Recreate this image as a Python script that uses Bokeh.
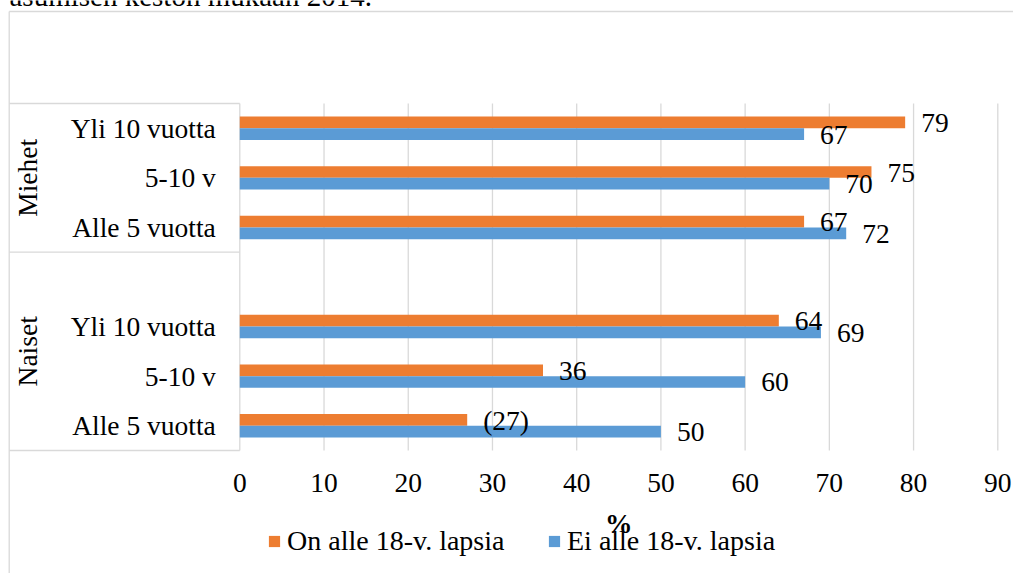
from math import pi

from bokeh.plotting import figure
from bokeh.models import Range1d, Legend, LegendItem, ColumnDataSource
from bokeh.embed import file_html
from bokeh.resources import INLINE
from bokeh.core.properties import value

# ---------------- data ----------------
title_text = "asumisen keston mukaan 2014."
groups = ["Miehet", "Miehet", "Miehet", "Naiset", "Naiset", "Naiset"]
durations = ["Yli 10 vuotta", "5-10 v", "Alle 5 vuotta",
             "Yli 10 vuotta", "5-10 v", "Alle 5 vuotta"]
on_lapsia = [79, 75, 67, 64, 36, 27]
ei_lapsia = [67, 70, 72, 69, 60, 50]
on_labels = ["79", "75", "67", "64", "36", "(27)"]
ei_labels = ["67", "70", "72", "69", "60", "50"]
series_names = ["On alle 18-v. lapsia", "Ei alle 18-v. lapsia"]
series_colors = ["#ED7D31", "#5B9BD5"]
x_ticks = [0, 10, 20, 30, 40, 50, 60, 70, 80, 90]
axis_title = "%"

FONT = "Liberation Serif"
FS = "27.5px"
GRID = "#d9d9d9"

# ---------------- geometry (canvas pixels -> data) ----------------
W, H = 1013, 573
X0_PX, X90_PX = 239.3, 997.3          # plot area left/right
TOP_PX, BOT_PX = 103.0, 450.0         # plot area top/bottom
N_SLOTS = 7                           # 6 categories + 1 spacer row
XMAX = x_ticks[-1]
PX_X = (X90_PX - X0_PX) / XMAX
PX_Y = (BOT_PX - TOP_PX) / N_SLOTS


def dx(px):
    return (px - X0_PX) / PX_X


def dy(py):
    return N_SLOTS - (py - TOP_PX) / PX_Y


# rows from top to bottom; Naiset group carries an empty spacer row on top
rows = list(zip(groups[:3], durations[:3])) + [("Naiset", "")] + list(zip(groups[3:], durations[3:]))
slot_y = {r: N_SLOTS - 0.5 - i for i, r in enumerate(rows)}
cat_y = [slot_y[(g, d)] for g, d in zip(groups, durations)]

BH = 0.236
off = BH / 2
source = ColumnDataSource(dict(
    y_on=[y + off for y in cat_y], y_ei=[y - off for y in cat_y],
    on=on_lapsia, ei=ei_lapsia, on_lbl=on_labels, ei_lbl=ei_labels))

p = figure(width=W, height=H, x_range=Range1d(dx(0), dx(W)), y_range=Range1d(dy(H), dy(0)),
           x_axis_type=None, y_axis_type=None,
           output_backend="svg", toolbar_location=None,
           min_border_left=0, min_border_right=0, min_border_top=0, min_border_bottom=0)
p.outline_line_color = None
p.background_fill_color = "white"
p.border_fill_color = "white"

# caption of the document above the chart (cut by the page top)
p.text(x=[dx(9)], y=[dy(-5)], text=[title_text], text_font=value(FONT), text_font_size="29px",
       text_color="black", text_align="left", text_baseline="alphabetic")

# outer chart frame (top and left edges)
x_frame = dx(8.7)
p.segment(x0=[x_frame, x_frame], y0=[dy(11), dy(11)], x1=[dx(W + 20), x_frame], y1=[dy(11), dy(H + 20)],
          line_color=GRID, line_width=1.3)

# vertical gridlines
p.segment(x0=x_ticks, y0=0, x1=x_ticks, y1=N_SLOTS, line_color=GRID, line_width=1.3)

# category table lines (multi-level axis)
box_y = [N_SLOTS, N_SLOTS - 3, 0]
p.segment(x0=[x_frame] * 3, y0=box_y, x1=[0] * 3, y1=box_y, line_color=GRID, line_width=1.3)

# bars
r_on = p.hbar(y="y_on", left=0, right="on", height=BH, fill_color=series_colors[0],
              line_color=None, source=source)
r_ei = p.hbar(y="y_ei", left=0, right="ei", height=BH, fill_color=series_colors[1],
              line_color=None, source=source)

# data labels
for xcol, ycol, tcol in (("on", "y_on", "on_lbl"), ("ei", "y_ei", "ei_lbl")):
    p.text(x=xcol, y=ycol, text=tcol, source=source, x_offset=16, y_offset=0.5,
           text_font=value(FONT), text_font_size=FS, text_color="black",
           text_align="left", text_baseline="middle")

# category labels
p.text(x=[0] * len(cat_y), y=cat_y, text=durations, x_offset=-24,
       text_font=value(FONT), text_font_size=FS, text_color="black",
       text_align="right", text_baseline="middle")

# group labels (rotated)
grp_names = ["Miehet", "Naiset"]
grp_y = [(N_SLOTS + N_SLOTS - 3) / 2, (N_SLOTS - 3) / 2]
p.text(x=[dx(27)] * 2, y=grp_y, text=grp_names, angle=pi / 2,
       text_font=value(FONT), text_font_size=FS, text_color="black",
       text_align="center", text_baseline="middle")

# x tick labels
p.text(x=x_ticks, y=[0] * len(x_ticks), text=[str(t) for t in x_ticks], y_offset=32.5,
       text_font=value(FONT), text_font_size=FS, text_color="black",
       text_align="center", text_baseline="middle")

# axis title
p.text(x=[XMAX / 2], y=[0], text=[axis_title], y_offset=72.5,
       text_font=value(FONT), text_font_size=FS, text_font_style="bold", text_color="black",
       text_align="center", text_baseline="middle")

legend = Legend(items=[LegendItem(label=series_names[0], renderers=[r_on]),
                       LegendItem(label=series_names[1], renderers=[r_ei])],
                location=(267, 16), orientation="horizontal",
                glyph_width=14, glyph_height=14, label_standoff=6, label_width=260,
                spacing=0, padding=0, margin=0, border_line_color=None,
                background_fill_alpha=0, label_text_font=FONT,
                label_text_font_size="28px", label_text_color="black")
p.add_layout(legend)

open("out.html", "w").write(file_html(p, INLINE))
